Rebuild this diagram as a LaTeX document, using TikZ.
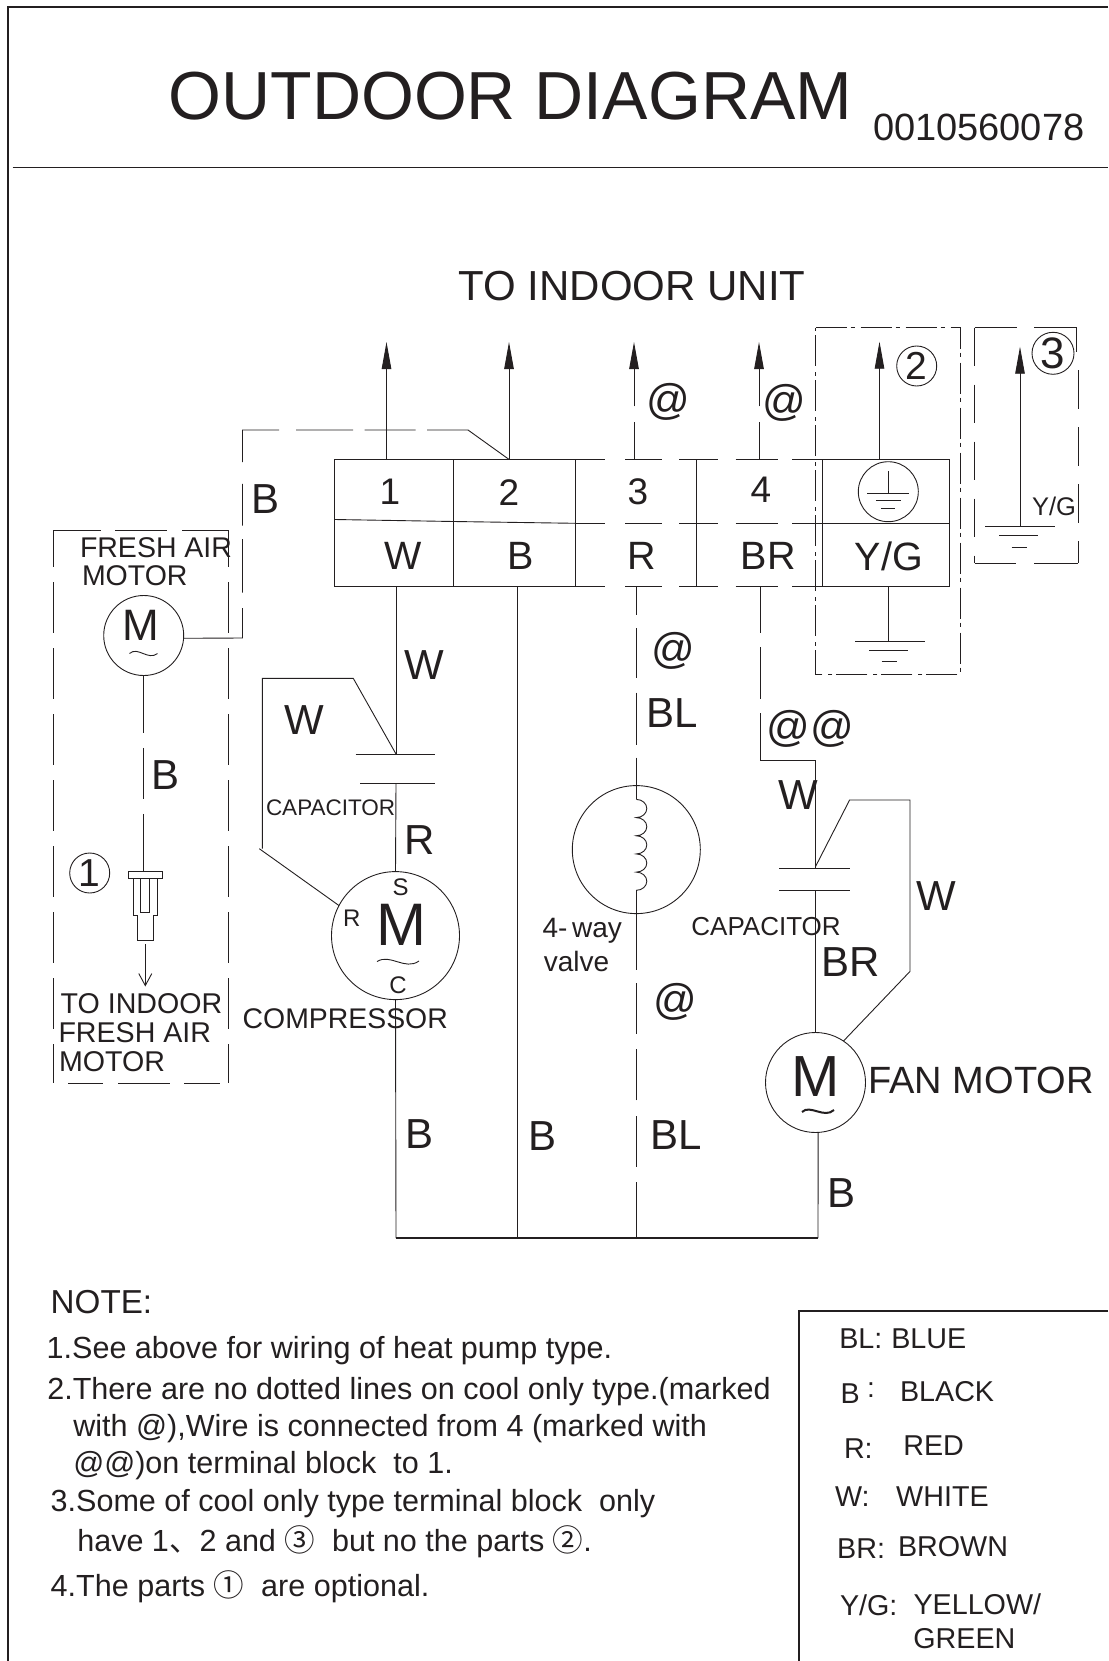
\documentclass[tikz,border=0pt]{standalone}
\usepackage{fontspec}
\setmainfont{Liberation Sans}
\newfontfamily\cjkfont{Noto Sans CJK SC}
\usetikzlibrary{arrows.meta}
\newcommand{\fsz}[1]{\fontsize{#1}{#1}\selectfont}
\definecolor{inkblack}{HTML}{231F20}
\tikzset{
  tag/.style={inner sep=0pt, outer sep=0pt, text=inkblack},
  wiretag/.style={tag, font=\fsz{42}},
  attag/.style={tag, font=\fsz{43}},
  blocktag/.style={tag, font=\fsz{39.5}},
  basetext/.style={tag, anchor=base west, font=\fsz{#1}},
  notetext/.style={basetext=30.55},
  keytext/.style={basetext=28.7},
  unitmark/.style={draw, circle, minimum size=#1, inner sep=0pt, outer sep=0pt},
  outarrow/.style={-{Triangle[length=27pt, width=9.5pt]}},
  wiredash/.style={dash pattern=on 51pt off 15pt},
  blockdash/.style={dash pattern=on 30pt off 20pt on 37pt off 17pt on 38.5pt off 18pt on 42.5pt off 14pt on 30pt},
  boxdash/.style={dash pattern=on 38.5pt off 18.5pt},
  partdash/.style={dash pattern=on 31pt off 4pt on 4pt off 6pt}
}
\begin{document}
\begin{tikzpicture}[x=1pt, y=-1pt, line width=0.9pt, color=inkblack]
    \useasboundingbox (0,0) rectangle (1108,1661);

    % Sheet frame and title
    \draw[line width=2pt] (1108,6.7) -- (8.3,6.7) -- (8.3,1661);
    \draw[line width=1.2pt] (12.7,167.7) -- (1108,167.7);
    \node[basetext=68] (Title) at (168.5,119.7) {OUTDOOR DIAGRAM};
    \node[basetext=38] (PartNo) at (873,141) {0010560078};
    \node[basetext=42] (ToIndoor) at (458.7,301) {TO INDOOR UNIT};

    % Define coordinates
    \coordinate (Term1Top) at (386.5,459.4);
    \coordinate (Term2Top) at (509,459.4);
    \coordinate (Term3Top) at (634,459.4);
    \coordinate (Term4Top) at (759,459.4);
    \coordinate (TermETop) at (879.5,459.4);
    \coordinate (Out1) at (386.5,342);
    \coordinate (Out2) at (509,342);
    \coordinate (Out3) at (634,342);
    \coordinate (Out4) at (759,342);
    \coordinate (OutE) at (879.5,341.7);
    \coordinate (OutThree) at (1020,346.7);
    \coordinate (GndThree) at (1020,526.3);
    \coordinate (Term1Bot) at (396,586.2);
    \coordinate (Term2Bot) at (517.5,586.2);
    \coordinate (Term3Bot) at (636.3,586.2);
    \coordinate (Term4Bot) at (760,586.2);
    \coordinate (TermEBot) at (888.7,586.2);
    \coordinate (GndE) at (888.7,641);
    \coordinate (BusLeft) at (396,1238);
    \coordinate (Bus2) at (517.5,1238);
    \coordinate (Bus3) at (636.3,1238);
    \coordinate (BusRight) at (818,1238);
    \coordinate (CapAPlus) at (396,754);
    \coordinate (CapAMinus) at (396,783);
    \coordinate (CapBPlus) at (815.5,868.5);
    \coordinate (CapBMinus) at (815.5,890);
    \coordinate (CoilTop) at (636.3,799.4);
    \coordinate (CoilBot) at (636.3,890.3);
    \coordinate (ValveTail) at (636.3,970);

    % Terminal block
    \draw (334.5,459.4) rectangle (575,586.2);
    \draw (453.5,459.4) -- (453.5,586.2);
    \draw (696,459.4) -- (696,586.2);
    \draw (334.5,519.5) -- (453.5,521.5) -- (575,523.3);
    \draw[blockdash] (575,459.4) -- (822,459.4);
    \draw[blockdash] (575,523.3) -- (822,523.3);
    \draw[blockdash] (575,586.2) -- (822,586.2);
    \draw (822.3,459.4) rectangle (949.3,586.2);
    \draw (822.3,523.3) -- (949.3,523.3);
    \node[tag, font=\fsz{37}] (Num1) at (390,491.7) {1};
    \node[tag, font=\fsz{37}] (Num2) at (509,493) {2};
    \node[tag, font=\fsz{37}] (Num3) at (638,492) {3};
    \node[tag, font=\fsz{37}] (Num4) at (761,490) {4};
    \node[blocktag] (TermW) at (403,556.2) {W};
    \node[blocktag] (TermB) at (521,556.2) {B};
    \node[blocktag] (TermR) at (642,556.2) {R};
    \node[blocktag] (TermBR) at (768.4,556.2) {BR};
    \node[blocktag] (TermYG) at (889,556.2) {Y/G};

    % Wires up to the indoor unit
    \draw[outarrow] (Term1Top) -- (Out1);
    \draw[outarrow] (Term2Top) -- (Out2);
    \draw[outarrow, dash pattern=on 37.5pt off 15.5pt on 100pt] (Term3Top) -- (Out3);
    \draw[outarrow, dash pattern=on 37.5pt off 15.5pt on 100pt] (Term4Top) -- (Out4);
    \draw[outarrow] (TermETop) -- (OutE);
    \node[attag] (AtThree) at (668.7,401.7) {@};
    \node[attag] (AtFour) at (784.7,403) {@};

    % Earth mark in the terminal block
    \node[unitmark=60pt] (EarthMark) at (888.3,491.7) {};
    \draw (888.3,471) -- (888.3,493.3);
    \draw (867.3,493.3) -- (909.3,493.3);
    \draw (875.8,500.7) -- (900.8,500.7);
    \draw (881.3,508.3) -- (895.3,508.3);

    % Part 2 frame and earth
    \draw[partdash] (815.7,327.7) -- (960.7,327.7) -- (960.7,674.3) -- (815.7,674.3) -- cycle;
    \node[unitmark=40pt, font=\fsz{39}] (MarkTwo) at (916.7,366) {2};
    \draw (TermEBot) -- (GndE);
    \draw (855,641) -- (925,641);
    \draw (869.3,650.3) -- (908.3,650.3);
    \draw (881.7,661.7) -- (897.3,661.7);

    % Part 3 frame and earth
    \draw[dash pattern=on 42.6pt off 16.7pt on 43pt] (974.7,327.7) -- (1076.7,327.7);
    \draw[dash pattern=on 41.3pt off 18pt on 44.3pt] (974.7,563) -- (1078.3,563);
    \draw[boxdash] (974.7,327.7) -- (974.7,563);
    \draw (1076.7,327.7) -- (1076.7,351.7);
    \draw[boxdash] (1078.3,370) -- (1078.3,563);
    \node[unitmark=42pt, font=\fsz{44}] (MarkThree) at (1053,353.3) {3};
    \draw[outarrow] (GndThree) -- (OutThree);
    \draw (985,526.3) -- (1055,526.3);
    \draw (999,535.7) -- (1038.3,535.7);
    \draw (1011.7,547.3) -- (1026.7,547.3);
    \node[tag, font=\fsz{25.5}] (YGThree) at (1054,506) {Y/G};

    % Fresh air motor
    \draw[dash pattern=on 47pt off 14.5pt on 52pt off 15pt on 47pt] (53.7,530) -- (228.7,530);
    \draw[dash pattern=on 35pt off 15pt on 51.7pt off 14.3pt on 35.7pt] (68.3,1083) -- (220,1083);
    \draw[wiredash, dash phase=14pt] (53.7,530) -- (53.7,1083);
    \draw[wiredash, dash phase=14pt] (228.7,530) -- (228.7,1083);
    \node[unitmark=80pt] (FreshMotor) at (143.7,635.5) {};
    \node[tag, font=\fsz{44}] (FreshM) at (141,625) {M};
    \draw (129.5,653.5) .. controls (138,646) and (148,661) .. (157.5,653.5);
    \node[basetext=28.5] (FreshA) at (80,557.5) {FRESH AIR};
    \node[basetext=28.5] (FreshB) at (82,585.5) {MOTOR};
    \draw[dash pattern=on 57pt off 15.3pt on 51pt off 15pt on 58pt] (FreshMotor.south) -- (143.7,871.6);
    \node[wiretag] (WireBFresh) at (165.5,775.5) {B};
    \node[unitmark=40pt, font=\fsz{39}] (MarkOne) at (89.7,873) {1};

    % Plug of the fresh air motor
    \draw (128.3,871.6) rectangle (162.3,878);
    \draw (133.3,878) -- (133.3,915) -- (137,915) -- (137,940.5) -- (153.7,940.5) -- (153.7,915) -- (157.3,915) -- (157.3,878);
    \draw (140.7,878) rectangle (149.7,912);
    \coordinate (PlugEnd) at (145.3,944);
    \coordinate (PlugTip) at (145.3,986.5);
    \draw[-{Straight Barb[length=12pt, width=13pt]}] (PlugEnd) -- (PlugTip);
    \node[basetext=28.6] (PlugA) at (60.7,1013) {TO INDOOR};
    \node[basetext=28.6] (PlugB) at (58.5,1042) {FRESH AIR};
    \node[basetext=28.6] (PlugC) at (59,1071) {MOTOR};

    % Black wire of the fresh air motor to terminal 2
    \draw (Term2Top) -- (468,430);
    \draw[dash pattern=on 41pt off 11.5pt on 51pt off 11.5pt on 57pt off 17pt on 68.7pt off 21.6pt on 41.7pt off 13.7pt on 53.3pt off 15.6pt on 100pt]
        (468,430) -- (242.5,430) -- (242.5,638) -- (FreshMotor.-4);
    \node[wiretag] (WireBTop) at (265.3,499) {B};

    % Compressor
    \node[unitmark=128pt] (Compressor) at (395.5,935.6) {};
    \node[tag, font=\fsz{60}] (CompM) at (401.7,925) {M};
    \node[tag, font=\fsz{24}] (CompS) at (400.7,887) {S};
    \node[tag, font=\fsz{24}] (CompR) at (351.7,918.4) {R};
    \node[tag, font=\fsz{24}] (CompC) at (398,985.7) {C};
    \draw (377,961.6) .. controls (390,953) and (405,971) .. (419,961);
    \node[basetext=28.4] (CompName) at (242.7,1028.4) {COMPRESSOR};
    \draw (Term1Bot) -- (CapAPlus);
    \draw (355.7,754) -- (435,754);
    \draw (360,783) -- (435,783);
    \draw (CapAMinus) -- (Compressor.north);
    \draw (CapAPlus) -- (353.3,678.4) -- (262.3,678.4) -- (262.3,848.7);
    \draw (259.3,848.7) -- (Compressor.152);
    \draw (Compressor.south) -- (BusLeft);
    \node[basetext=22.5] (CapALabel) at (266,815) {CAPACITOR};
    \node[wiretag] (WireW) at (424,665) {W};
    \node[wiretag] (WireWSide) at (304,719.6) {W};
    \node[wiretag] (WireR) at (419.5,840) {R};
    \node[wiretag] (WireBComp) at (419.5,1134.5) {B};

    % Common black wire
    \draw (Term2Bot) -- (Bus2);
    \draw[line width=1.2pt] (BusLeft) -- (BusRight);
    \node[wiretag] (WireBMid) at (542,1136) {B};

    % Four way valve
    \node[unitmark=128pt] (Valve) at (636.3,849.6) {};
    \draw[dash pattern=on 29pt off 13pt on 50pt off 14.5pt on 52pt off 13pt on 100pt] (Term3Bot) -- (Valve.north);
    \draw (Valve.north) -- (CoilTop);
    \draw (CoilTop) arc[start angle=-90, end angle=90, x radius=10.5, y radius=9.09]
        arc[start angle=-90, end angle=90, x radius=10.5, y radius=9.09]
        arc[start angle=-90, end angle=90, x radius=10.5, y radius=9.09]
        arc[start angle=-90, end angle=90, x radius=10.5, y radius=9.09]
        arc[start angle=-90, end angle=90, x radius=10.5, y radius=9.09];
    \draw (CoilBot) -- (Valve.south);
    \draw[dash pattern=on 56.3pt off 15.2pt on 51pt off 15.2pt on 51.4pt off 15.1pt on 50.5pt off 14.7pt on 57pt] (Bus3) -- (ValveTail);
    \draw (Valve.south) -- (ValveTail);
    \node[basetext=28] (ValveA) at (542.6,937.6) {4-\,way};
    \node[basetext=28] (ValveB) at (543.8,971) {valve};
    \node[attag] (AtBlueTop) at (673.2,651) {@};
    \node[wiretag] (WireBLTop) at (672.5,713.5) {BL};
    \node[attag] (AtBlueBot) at (675,1002) {@};
    \node[wiretag] (WireBLBot) at (676,1135) {BL};

    % Fan motor
    \node[unitmark=100pt] (FanMotor) at (815.5,1082.5) {};
    \node[tag, font=\fsz{58}] (FanM) at (816,1077) {M};
    \draw[line width=2pt] (802,1112) .. controls (810,1104) and (824,1119) .. (834,1110);
    \node[basetext=38] (FanName) at (868.5,1093.5) {FAN MOTOR};
    \draw[dash pattern=on 47pt off 14pt on 52pt off 14pt on 60pt] (Term4Bot) -- (760,760.6);
    \draw (760,760.6) -- (815.5,760.6) -- (CapBPlus);
    \draw (779,868.5) -- (849.6,868.5);
    \draw (779,890) -- (849.6,890);
    \draw (CapBMinus) -- (FanMotor.north);
    \draw (815.5,866.6) -- (849.6,800) -- (910,800) -- (910,971.4) -- (FanMotor.56);
    \draw (FanMotor.-87) -- (BusRight);
    \node[basetext=26] (CapBLabel) at (691.4,935) {CAPACITOR};
    \node[attag] (AtAt) at (810.5,729) {@@};
    \node[wiretag] (WireWFan) at (798,795.5) {W};
    \node[wiretag] (WireWRight) at (936,896.5) {W};
    \node[wiretag] (WireBR) at (851,962.5) {BR};
    \node[wiretag] (WireBFan) at (841,1193) {B};

    % Notes
    \node[basetext=33.2] (NoteHead) at (50.7,1313.8) {NOTE:};
    \node[notetext] (Note1) at (46.7,1358.3) {1.See above for wiring of heat pump type.};
    \node[notetext] (Note2) at (47.3,1399.3) {2.There are no dotted lines on cool only type.(marked};
    \node[notetext] (Note2b) at (73.3,1436) {with @),Wire is connected from 4 (marked with};
    \node[notetext] (Note2c) at (73.3,1473.3) {@@)on terminal block\ \ to 1.};
    \node[notetext] (Note3) at (50.7,1511.7) {3.Some of cool only type terminal block\ \ only};
    \node[notetext] (Note3b) at (77.3,1551.7) {have 1{\cjkfont 、}2 and {\cjkfont ③}\ \ but no the parts {\cjkfont ②}.};
    \node[notetext] (Note4) at (50.7,1596) {4.The parts {\cjkfont ①}\ \ are optional.};

    % Colour key
    \draw[line width=1.2pt] (1108,1311) -- (799,1311) -- (799,1661);
    \node[keytext] (KeyBL) at (839.3,1348.3) {BL:};
    \node[keytext] (KeyBLUE) at (891.3,1348.3) {BLUE};
    \node[keytext] (KeyB) at (840.7,1403.3) {B};
    \node[tag, font=\fsz{28}] (KeyBColon) at (871,1390) {:};
    \node[keytext] (KeyBLACK) at (900,1401) {BLACK};
    \node[keytext] (KeyR) at (844,1458.3) {R:};
    \node[keytext] (KeyRED) at (903.3,1455.7) {RED};
    \node[keytext] (KeyW) at (835,1506) {W:};
    \node[keytext] (KeyWHITE) at (896.2,1506) {WHITE};
    \node[keytext] (KeyBR) at (837.2,1558.3) {BR:};
    \node[keytext] (KeyBROWN) at (898,1556.7) {BROWN};
    \node[keytext] (KeyYG) at (840,1615.7) {Y/G:};
    \node[keytext] (KeyYELLOW) at (913.5,1614) {YELLOW/};
    \node[keytext] (KeyGREEN) at (913.3,1648.3) {GREEN};

\end{tikzpicture}
\end{document}
